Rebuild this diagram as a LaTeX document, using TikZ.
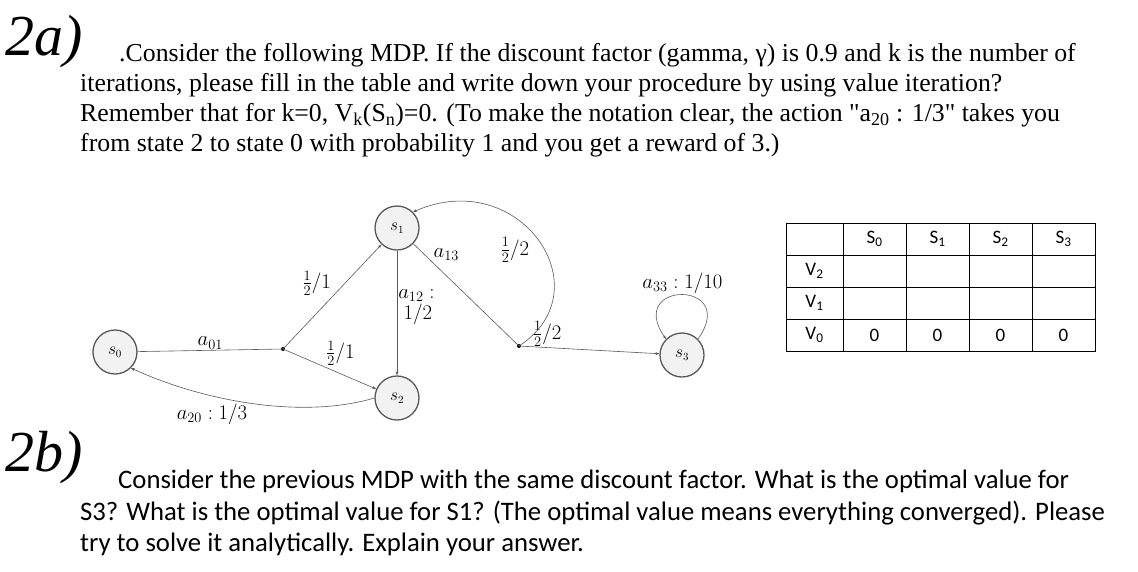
\documentclass[tikz,border=0pt]{standalone}
\usepackage{fontspec}
\setmainfont{Liberation Serif}
\newfontfamily\calfont{Carlito}
\usetikzlibrary{arrows.meta}
\begin{document}
\begin{tikzpicture}[x=1pt,y=-1pt,
  st/.style={circle,draw=gray!70!black,line width=1.3pt,fill=gray!10,minimum size=44pt,inner sep=0pt,font=\fontsize{16}{16}\selectfont},
  ed/.style={draw=gray!70!black,line width=0.6pt,-{Stealth[length=4pt,width=3pt]}},
  ln/.style={draw=gray!70!black,line width=0.6pt},
  lb/.style={font=\fontsize{19.5}{21}\selectfont,inner sep=1pt},
  para/.style={anchor=north west,align=left,inner sep=0pt},
  cell/.style={draw,minimum height=32pt,inner sep=0pt,font=\calfont\fontsize{19}{19}\selectfont}]
\useasboundingbox (0,0) rectangle (1138,571);
\node[anchor=west,font=\fontsize{58}{58}\selectfont\itshape] (h1) at (2,42) {2a)};
\node[para,font=\fontsize{25.8}{30}\selectfont] (t1) at (80,43) {\hspace{39pt}.Consider the following MDP. If the discount factor (gamma, γ) is 0.9 and k is the number of\\iterations, please fill in the table and write down your procedure by using value iteration?\\Remember that for k=0, V\textsubscript{k}(S\textsubscript{n})=0. (To make the notation clear, the action \textquotedbl a\textsubscript{20} : 1/3\textquotedbl{} takes you\\from state 2 to state 0 with probability 1 and you get a reward of 3.)};
\node[st] (s0) at (115,352) {$s_0$};
\node[st] (s1) at (397,228) {$s_1$};
\node[st] (s2) at (397,398) {$s_2$};
\node[st] (s3) at (682,355) {$s_3$};
\fill (283,349) circle (2pt) coordinate (d1);
\fill (519,346) circle (2pt) coordinate (d2);
\draw[ln] (s0) -- node[lb,above]{$a_{01}$} (d1);
\draw[ed] (d1) -- node[lb,above left,pos=0.5]{$\frac12/1$} (s1);
\draw[ed] (d1) -- node[lb,above right,pos=0.45]{$\frac12/1$} (s2);
\draw[ed] (s1) -- node[lb,right,align=left,pos=0.45]{$a_{12}:$\\\;$1/2$} (s2);
\draw[ln] (s1) -- node[lb,above right,pos=0.18]{$a_{13}$} (d2);
\draw[ed] (d2) -- node[lb,above,pos=0.2]{$\frac12/2$} (s3);
\draw[ed] (d2) .. controls (605,290) and (520,165) .. (s1.north east);
\node[lb] (l13) at (515,250) {$\frac12/2$};
\draw[ed] (s2.west) .. controls (300,420) and (200,400) .. (s0.south east);
\node[lb] (l20) at (212,414) {$a_{20}:1/3$};
\draw[ed] (s3.north east) .. controls (740,280) and (625,280) .. node[lb,above,pos=0.5]{$a_{33}:1/10$} (s3.north west);
\foreach \r/\lab in {0/,1/V\textsubscript{2},2/V\textsubscript{1},3/V\textsubscript{0}}{
  \node[cell,minimum width=57pt] (r\r) at (814.5,{239+32*\r}) {\lab};}
\foreach \c/\lab in {0/S\textsubscript{0},1/S\textsubscript{1},2/S\textsubscript{2},3/S\textsubscript{3}}{
  \node[cell,minimum width=63pt] (h\c) at ({874.5+63*\c},239) {\lab};
  \node[cell,minimum width=63pt] (a\c) at ({874.5+63*\c},271) {};
  \node[cell,minimum width=63pt] (b\c) at ({874.5+63*\c},303) {};
  \node[cell,minimum width=63pt] (z\c) at ({874.5+63*\c},335) {0};}
\node[anchor=west,font=\fontsize{58}{58}\selectfont\itshape] (h2) at (2,458) {2b)};
\node[para,font=\calfont\fontsize{26.7}{31.5}\selectfont] (t2) at (80,470) {\hspace{38pt}Consider the previous MDP with the same discount factor. What is the optimal value for\\S3? What is the optimal value for S1? (The optimal value means everything converged). Please\\try to solve it analytically. Explain your answer.};
\end{tikzpicture}
\end{document}
